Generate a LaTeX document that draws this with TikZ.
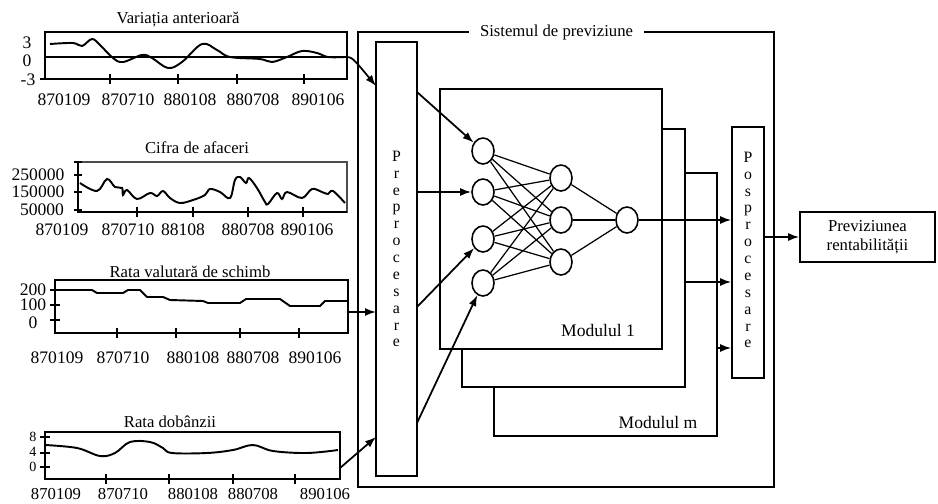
\documentclass[tikz,border=0pt]{standalone}
\usepackage{fontspec}
\setmainfont{Liberation Serif}
\usetikzlibrary{arrows.meta,positioning,shapes.geometric}

\begin{document}
\begin{tikzpicture}[x=0.02cm,y=-0.02cm,>={Latex[length=2.2mm,width=1.6mm]},
  line width=0.8pt,
  axis/.style={line width=0.9pt},
  curve/.style={line width=1.1pt,smooth,tension=0.6},
  ttl/.style={font=\fontsize{9.5}{11}\selectfont,inner sep=1pt},
  lbl/.style={font=\fontsize{10}{11}\selectfont,inner sep=1pt},
  neuron/.style={draw,ellipse,minimum width=0.44cm,minimum height=0.52cm,inner sep=0pt,line width=0.9pt,fill=white},
  modbox/.style={draw,fill=white,line width=0.9pt},
  vbox/.style={draw,line width=0.9pt},
  vtext/.style={align=center,font=\fontsize{9}{9.6}\selectfont,inner sep=0pt},
  link/.style={line width=0.7pt}]
\useasboundingbox (0,0) rectangle (938,504);

\node[ttl] (t1) at (178,20) {Variația anterioară};
\draw[axis] (45,32) rectangle (347,79);
\draw[axis] (45,57) -- (347,57);
\draw[axis] (40,79) -- (45,79);
\foreach \x in {110,178,237,304} \draw[axis] (\x,74) -- (\x,84);
\foreach \v/\xx/\y in {3/27/43,0/27/61,-3/28/80} \node[lbl] at (\xx,\y) {\v};
\foreach \s/\x in {870109/64,870710/128,880108/190,880708/253,890106/318} \node[lbl] at (\x,100) {\s};
\draw[curve] plot coordinates {(50,44) (73,43) (82,46) (92,39) (100,45) (113,58) (123,62) (142,55) (152,58) (168,68) (182,62) (202,44) (217,50) (230,57) (260,59) (272,62) (287,57) (302,51) (317,53) (328,57) (345,57)};

\node[ttl] (t2) at (197,148) {Cifra de afaceri};
\draw[axis,black!70] (78,162) rectangle (347,212);
\draw[axis] (78,162) -- (78,212) -- (347,212);
\foreach \y in {162,175,192,210} \draw[axis] (74,\y) -- (82,\y);
\foreach \x in {137,193,248,303} \draw[axis] (\x,207) -- (\x,217);
\foreach \v/\xx/\y in {250000/38/175,150000/38/192,50000/42/210} \node[lbl] at (\xx,\y) {\v};
\foreach \s/\x in {870109/62,870710/128,88108/183,880708/248,890106/307} \node[lbl] at (\x,230) {\s};
\draw[curve] plot coordinates {(80,183) (97,191) (107,179) (115,187) (122,188) (123,195) (127,190) (137,199) (150,193) (157,196) (163,191) (170,198) (180,203) (193,200) (205,195) (210,189) (220,192) (230,198) (235,180) (240,177) (246,183) (249,178) (257,188) (265,202) (268,204) (277,193) (282,199) (287,192) (302,198) (312,189) (322,192) (328,194) (333,191) (345,203)};

\node[ttl] (t3) at (190,272) {Rata valutară de schimb};
\draw[axis] (55,280) rectangle (348,333);
\foreach \y in {290,305,320} \draw[axis] (50,\y) -- (60,\y);
\foreach \x in {117,176,240,299} \draw[axis] (\x,328) -- (\x,338);
\foreach \v/\y in {200/290,100/305,0/323} \node[lbl] at (33,\y) {\v};
\foreach \s/\x in {870109/57,870710/123,880108/193,880708/253,890106/315} \node[lbl] at (\x,358) {\s};
\draw[line width=1.1pt] plot coordinates {(55,290) (92,290) (97,293) (123,293) (128,290) (140,290) (147,297) (163,297) (170,300) (203,301) (208,303) (240,303) (246,299) (280,299) (290,306) (320,306) (325,301) (348,301)};

\node[ttl] (t4) at (170,422) {Rata dobânzii};
\draw[axis] (45,432) rectangle (340,479);
\foreach \y in {437,453,467} \draw[axis] (40,\y) -- (50,\y);
\foreach \x in {106,169,233,295} \draw[axis] (\x,474) -- (\x,484);
\foreach \v/\y in {8/437,4/452,0/467} \node[lbl,font=\fontsize{8}{8}\selectfont,inner sep=0pt] at (33,\y) {\v};
\foreach \s/\x in {870109/56,870710/123,880108/193,880708/253,890106/325} \node[lbl,font=\fontsize{9.5}{10}\selectfont] at (\x,494) {\s};
\draw[curve] plot coordinates {(45,445) (77,448) (100,456) (115,453) (130,442) (150,442) (163,448) (172,453) (207,453) (233,450) (253,445) (273,451) (307,453) (338,450)};

\node[vbox,minimum width=8.32cm,minimum height=9.1cm] (sys) at (566,259.5) {};
\node[ttl,fill=white,inner xsep=0.22cm] (systtl) at (556.5,32) {Sistemul de previziune};

\node[vbox,minimum width=0.82cm,minimum height=8.68cm] (pre) at (396.5,259) {};
\node[vtext] (pretxt) at (396.5,249) {P\\r\\e\\p\\r\\o\\c\\e\\s\\a\\r\\e};

\node[modbox,minimum width=4.46cm,minimum height=5.26cm] (modm) at (605.5,304.5) {};
\node[modbox,minimum width=4.46cm,minimum height=5.16cm] (mod2) at (573.5,258) {};
\node[modbox,minimum width=4.44cm,minimum height=5.2cm] (mod1) at (551,219) {};
\node[lbl] (m1txt) at (598,330) {Modulul 1};
\node[lbl] (mmtxt) at (658,422) {Modulul m};

\node[vbox,minimum width=0.64cm,minimum height=5.02cm] (pos) at (748,252.5) {};
\node[vtext] (postxt) at (748,250) {P\\o\\s\\p\\r\\o\\c\\e\\s\\a\\r\\e};

\node[vbox,minimum width=2.7cm,minimum height=1cm,align=center,font=\fontsize{9.5}{11}\selectfont] (out) at (867.5,237) {Previziunea\\rentabilității};

\node[neuron] (i1) at (483,151) {};
\node[neuron] (i2) at (483,192) {};
\node[neuron] (i3) at (483,239) {};
\node[neuron] (i4) at (483,283) {};
\node[neuron] (h1) at (561,178) {};
\node[neuron] (h2) at (561,220) {};
\node[neuron] (h3) at (561,262) {};
\node[neuron] (o) at (627,220) {};
\foreach \a in {1,...,4} \foreach \b in {1,2,3} \draw[link] (i\a) -- (h\b);
\foreach \b in {1,2,3} \draw[link] (h\b) -- (o);

\coordinate (c1) at (345,57);
\coordinate (c3) at (348,312);
\coordinate (c4) at (340,468);
\coordinate (e1) at (376,86);
\coordinate (e3) at (376,312);
\coordinate (e4) at (376,437);
\draw[->,line width=1pt] (c1) .. controls (352,57) .. (e1);
\draw[->,line width=1pt] (c3) -- (e3);
\draw[->,line width=1pt] (c4) -- (e4);

\coordinate (p1) at (417,92);
\coordinate (p2) at (417,192);
\coordinate (p3) at (417,307);
\coordinate (p4) at (417,423);
\draw[->,line width=1pt] (p1) -- (i1);
\draw[->,line width=1pt] (p2) -- (i2);
\draw[->,line width=1pt] (p3) -- (i3);
\draw[->,line width=1pt] (p4) -- (i4);

\draw[->,line width=1pt] (o) -- (pos.west |- o);
\coordinate (q2) at (685,282);
\coordinate (qm) at (717,348);
\draw[->,line width=1pt] (q2) -- (q2 -| pos.west);
\draw[->,line width=1pt] (qm) -- (qm -| pos.west);
\draw[->,line width=1pt] (pos.east |- out.west) -- (out);
\end{tikzpicture}
\end{document}
